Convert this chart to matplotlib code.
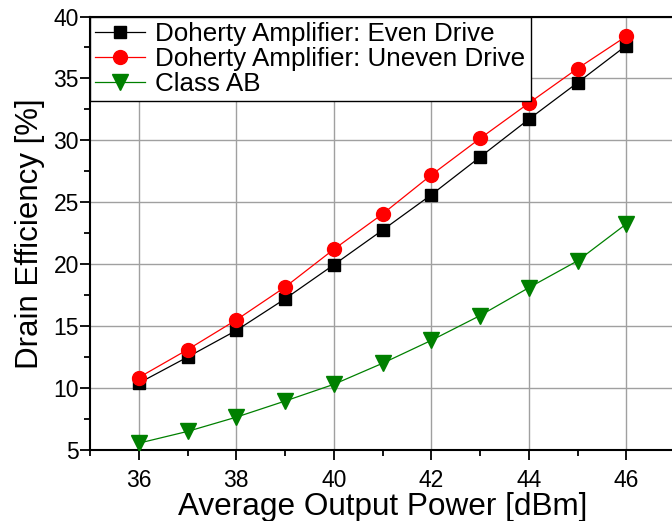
import matplotlib
matplotlib.use("Agg")
import matplotlib.pyplot as plt
from matplotlib.ticker import MultipleLocator

plt.rcParams['font.family'] = ['Liberation Sans', 'DejaVu Sans']

power_dbm = [36, 37, 38, 39, 40, 41, 42, 43, 44, 45, 46]
even_drive = [10.4, 12.5, 14.65, 17.2, 19.95, 22.75, 25.6, 28.65, 31.7, 34.65, 37.65]
uneven_drive = [10.85, 13.1, 15.5, 18.15, 21.2, 24.05, 27.2, 30.15, 33.0, 35.8, 38.4]
class_ab = [5.55, 6.5, 7.65, 8.95, 10.3, 12.0, 13.85, 15.85, 18.1, 20.27, 23.25]

labels = ["Doherty Amplifier: Even Drive", "Doherty Amplifier: Uneven Drive", "Class AB"]

fig = plt.figure(figsize=(6.72, 5.21), dpi=100)
ax = fig.add_axes([90/672, (521-450)/521, (675-90)/672, (450-16.5)/521])

ax.plot(power_dbm, even_drive, color='black', marker='s', markersize=8.5, lw=0.9, label=labels[0], zorder=3)
ax.plot(power_dbm, uneven_drive, color='red', marker='o', markersize=10, lw=0.9, label=labels[1], zorder=4)
ax.plot(power_dbm, class_ab, color='green', marker='v', markersize=11, lw=0.9, label=labels[2], zorder=3)

ax.set_xlim(35, 47)
ax.set_ylim(5, 40)
ax.xaxis.set_major_locator(MultipleLocator(2))
ax.xaxis.set_minor_locator(MultipleLocator(1))
ax.yaxis.set_major_locator(MultipleLocator(5))
ax.yaxis.set_minor_locator(MultipleLocator(2.5))
ax.grid(True, which='major', color='#a0a0a0', lw=1.0)
ax.set_axisbelow(True)

ax.tick_params(which='major', direction='out', length=7, width=1.3, labelsize=16.5, pad=7)
ax.tick_params(which='minor', direction='out', length=4, width=1.3)
ax.tick_params(axis='y', pad=1)
for s in ax.spines.values():
    s.set_linewidth(1.5)

ax.set_xlabel("Average Output Power [dBm]", fontsize=22.7, labelpad=0)
ax.set_ylabel("Drain Efficiency [%]", fontsize=22.5, labelpad=6)

leg = ax.legend(loc='upper left', bbox_to_anchor=(0, 1), borderaxespad=0,
                fontsize=18.7, fancybox=False, framealpha=1, edgecolor='black',
                handlelength=1.9, handletextpad=0.42, labelspacing=0.05,
                borderpad=0.2)
leg.get_frame().set_linewidth(1.0)

fig.savefig("out.png", dpi=100)
